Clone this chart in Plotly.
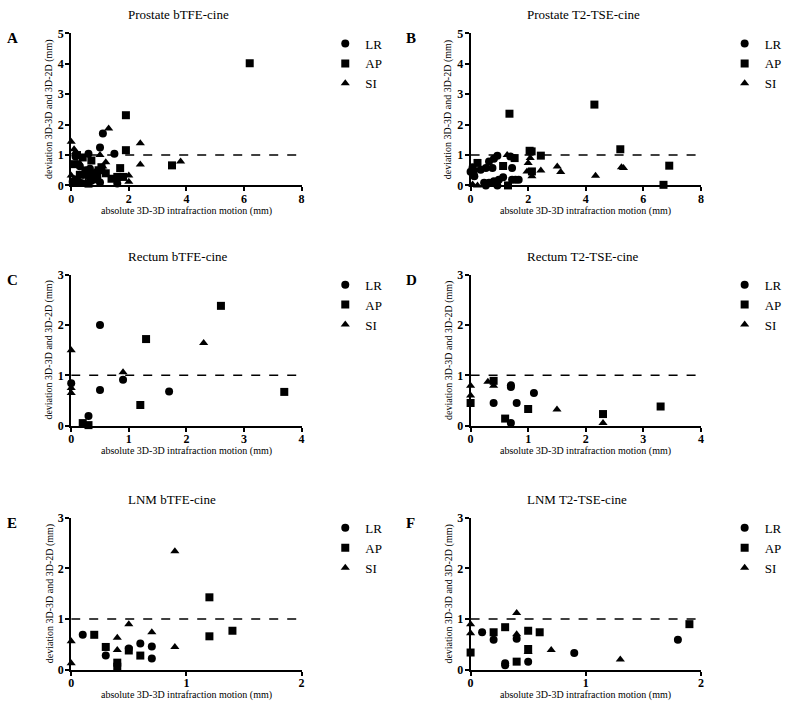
import plotly.graph_objects as go

W, H = 787, 714
FONT = "Liberation Serif"

# ---------------- data ----------------
A_LR_x = [1.1, 1.0, 1.5, 0.6, 0.3, 0.5, 1.6, 0.05, 0.15, 0.2, 0.35, 0.6, 0.7, 0.8, 0.9, 1.0, 0.25, 0.45, 0.65, 0.75]
A_LR_y = [1.71, 1.25, 1.04, 1.04, 0.63, 0.5, 0.06, 0.12, 0.95, 0.2, 0.08, 0.3, 0.15, 0.25, 0.45, 0.1, 0.7, 0.35, 0.55, 0.4]
A_AP_x = [6.2, 1.9, 1.9, 3.5, 1.7, 0.1, 0.2, 0.4, 0.7, 0.95, 1.4, 1.6, 1.8, 1.2, 0.6, 1.05, 0.8, 0.3, 0.5, 0.9]
A_AP_y = [4.02, 2.31, 1.16, 0.66, 0.57, 0.7, 1.0, 0.92, 0.82, 0.5, 0.22, 0.28, 0.28, 0.4, 0.06, 0.6, 0.2, 0.35, 0.45, 0.3]
A_SI_x = [1.3, 2.4, 2.4, 3.8, 0.0, 0.1, 1.0, 1.2, 2.0, 2.0, 0.0, 0.1, 0.2, 0.7, 0.9, 0.5, 0.15, 1.1]
A_SI_y = [1.87, 1.39, 0.69, 0.79, 1.44, 1.19, 1.0, 0.76, 0.33, 0.12, 0.33, 0.22, 0.06, 0.18, 0.3, 0.1, 1.1, 0.62]

B_LR_x = [0.07, 0.13, 0.35, 0.53, 0.64, 0.81, 0.93, 0.76, 1.44, 0.47, 0.64, 0.81, 0.98, 1.13, 1.44, 1.67, 1.56, 0.53, 0.93, 1.38, 0.0]
B_LR_y = [0.6, 0.3, 0.52, 0.57, 0.79, 0.88, 0.98, 0.57, 0.57, 0.09, 0.09, 0.14, 0.19, 0.27, 0.19, 0.19, 0.19, 0.0, 0.0, 0.95, 0.45]
B_AP_x = [1.35, 4.3, 5.2, 6.9, 6.7, 2.05, 2.12, 2.44, 2.13, 1.3, 1.53, 1.13, 0.24, 0.1]
B_AP_y = [2.36, 2.66, 1.19, 0.65, 0.02, 1.14, 1.12, 0.98, 0.46, 0.0, 0.9, 0.64, 0.74, 0.46]
B_SI_x = [0.07, 0.24, 1.27, 2.07, 2.0, 1.96, 2.13, 2.44, 3.01, 3.13, 4.34, 5.24, 5.31]
B_SI_y = [0.03, 0.0, 1.0, 0.9, 0.74, 0.46, 0.3, 0.49, 0.62, 0.44, 0.32, 0.6, 0.57]

C_LR_x = [0.5, 0.0, 0.5, 0.9, 1.7, 0.3]
C_LR_y = [2.0, 0.84, 0.71, 0.91, 0.68, 0.19]
C_AP_x = [2.6, 1.3, 1.2, 3.7, 0.2, 0.3]
C_AP_y = [2.38, 1.72, 0.41, 0.67, 0.05, 0.01]
C_SI_x = [0.0, 0.0, 0.0, 0.9, 2.3]
C_SI_y = [1.5, 0.75, 0.65, 1.06, 1.64]

D_LR_x = [0.7, 0.7, 0.4, 0.8, 1.1, 0.7]
D_LR_y = [0.77, 0.8, 0.45, 0.45, 0.65, 0.05]
D_AP_x = [0.0, 0.4, 0.6, 1.0, 2.3, 3.3]
D_AP_y = [0.45, 0.89, 0.14, 0.33, 0.23, 0.38]
D_SI_x = [0.0, 0.0, 0.3, 0.4, 1.5, 2.3]
D_SI_y = [0.79, 0.6, 0.87, 0.79, 0.32, 0.05]

E_LR_x = [0.1, 0.3, 0.5, 0.6, 0.7, 0.7]
E_LR_y = [0.69, 0.28, 0.42, 0.52, 0.46, 0.22]
E_AP_x = [0.2, 0.3, 0.4, 0.4, 0.5, 0.6, 1.2, 1.2, 1.4]
E_AP_y = [0.69, 0.45, 0.14, 0.06, 0.38, 0.28, 0.66, 1.43, 0.77]
E_SI_x = [0.0, 0.0, 0.4, 0.4, 0.5, 0.7, 0.9, 0.9]
E_SI_y = [0.56, 0.13, 0.63, 0.39, 0.9, 0.74, 2.34, 0.45]

F_LR_x = [0.1, 0.2, 0.3, 0.3, 0.4, 0.5, 0.9, 1.8]
F_LR_y = [0.74, 0.59, 0.13, 0.09, 0.61, 0.16, 0.33, 0.59]
F_AP_x = [0.0, 0.2, 0.3, 0.4, 0.5, 0.5, 0.6, 1.9]
F_AP_y = [0.34, 0.74, 0.84, 0.16, 0.77, 0.41, 0.74, 0.9]
F_SI_x = [0.0, 0.0, 0.4, 0.4, 0.5, 0.7, 1.3]
F_SI_y = [0.9, 0.72, 1.12, 0.7, 0.35, 0.39, 0.2]

series_names = ["LR", "AP", "SI"]
symbols = ["circle", "square", "triangle-up"]
x_title = "absolute 3D-3D intrafraction motion (mm)"
y_title = "deviation 3D-3D and 3D-2D (mm)"

panels = [
    dict(letter="A", title="Prostate bTFE-cine", xmax=8, xdt=2, ymax=5,
         data=[(A_LR_x, A_LR_y), (A_AP_x, A_AP_y), (A_SI_x, A_SI_y)]),
    dict(letter="B", title="Prostate T2-TSE-cine", xmax=8, xdt=2, ymax=5,
         data=[(B_LR_x, B_LR_y), (B_AP_x, B_AP_y), (B_SI_x, B_SI_y)]),
    dict(letter="C", title="Rectum bTFE-cine", xmax=4, xdt=1, ymax=3,
         data=[(C_LR_x, C_LR_y), (C_AP_x, C_AP_y), (C_SI_x, C_SI_y)]),
    dict(letter="D", title="Rectum T2-TSE-cine", xmax=4, xdt=1, ymax=3,
         data=[(D_LR_x, D_LR_y), (D_AP_x, D_AP_y), (D_SI_x, D_SI_y)]),
    dict(letter="E", title="LNM bTFE-cine", xmax=2, xdt=1, ymax=3,
         data=[(E_LR_x, E_LR_y), (E_AP_x, E_AP_y), (E_SI_x, E_SI_y)]),
    dict(letter="F", title="LNM T2-TSE-cine", xmax=2, xdt=1, ymax=3,
         data=[(F_LR_x, F_LR_y), (F_AP_x, F_AP_y), (F_SI_x, F_SI_y)]),
]

# pixel geometry of plot areas: (left, right) and (top, bottom)
cols = [(69, 302), (473, 706)]
rows = [(27, 182), (273, 427), (521, 676)]

def px(x):
    return x / W

def py(y):
    return 1 - y / H

fig = go.Figure()
annotations = []
shapes = []
layout = {}

def ann(text, x, y, size, xanchor="center", angle=0, bold=False):
    return dict(text=f"<b>{text}</b>" if bold else text, x=px(x), y=py(y),
                xref="paper", yref="paper", showarrow=False,
                xanchor=xanchor, yanchor="middle", textangle=angle,
                font=dict(family=FONT, size=size, color="black"))

for i, p in enumerate(panels):
    r, c = divmod(i, 2)
    x0, x1 = cols[c]
    y0, y1 = rows[r]
    n = i + 1
    xa = "x" if n == 1 else f"x{n}"
    ya = "y" if n == 1 else f"y{n}"
    lg = "legend" if n == 1 else f"legend{n}"
    for k in range(3):
        xs, ys = p["data"][k]
        fig.add_trace(go.Scatter(
            x=xs, y=ys, mode="markers", name=series_names[k],
            marker=dict(symbol=symbols[k], size=8, color="black"),
            xaxis=xa, yaxis=ya, legend=lg, legendgroup=f"{n}{k}",
            cliponaxis=False, showlegend=True))
    common = dict(showgrid=False, zeroline=False, showline=True, linecolor="black",
                  linewidth=2, ticks="outside", ticklen=4, tickwidth=2, tickcolor="black",
                  tickfont=dict(family=FONT, size=12, color="black", weight="bold"))
    layout["xaxis" if n == 1 else f"xaxis{n}"] = dict(
        common, domain=[px(x0), px(x1)], range=[0, p["xmax"]], dtick=p["xdt"], tick0=0,
        anchor=ya, ticklabelstandoff=-3)
    layout["yaxis" if n == 1 else f"yaxis{n}"] = dict(
        common, domain=[py(y1), py(y0)], range=[0, p["ymax"]], dtick=1, tick0=0,
        anchor=xa, ticklabelstandoff=-1)
    layout[lg] = dict(x=px(x1 + 24), y=py(y0 - 5), xanchor="left", yanchor="top",
                      bgcolor="rgba(0,0,0,0)", tracegroupgap=0,
                      traceorder="grouped", itemsizing="trace",
                      font=dict(family=FONT, size=13, color="black"))
    shapes.append(dict(type="line", xref=xa, yref=ya, x0=0, x1=p["xmax"], y0=1, y1=1,
                       line=dict(color="black", width=1.5, dash="dash")))
    annotations.append(ann(p["title"], x0 + 55, y0 - 19, 13, xanchor="left"))
    annotations.append(ann(p["letter"], 2 if c == 0 else 406, y0 + 5, 15,
                           xanchor="left", bold=True))
    annotations.append(ann(x_title, (x0 + x1) / 2, y1 + 26, 10))
    annotations.append(ann(y_title, x0 - 22, (y0 + y1) / 2, 10, angle=-90))

fig.update_layout(
    width=W, height=H, margin=dict(l=0, r=0, t=0, b=0),
    paper_bgcolor="white", plot_bgcolor="white",
    font=dict(family=FONT, color="black"),
    annotations=annotations, shapes=shapes, **layout)

fig.write_html("out.html")
